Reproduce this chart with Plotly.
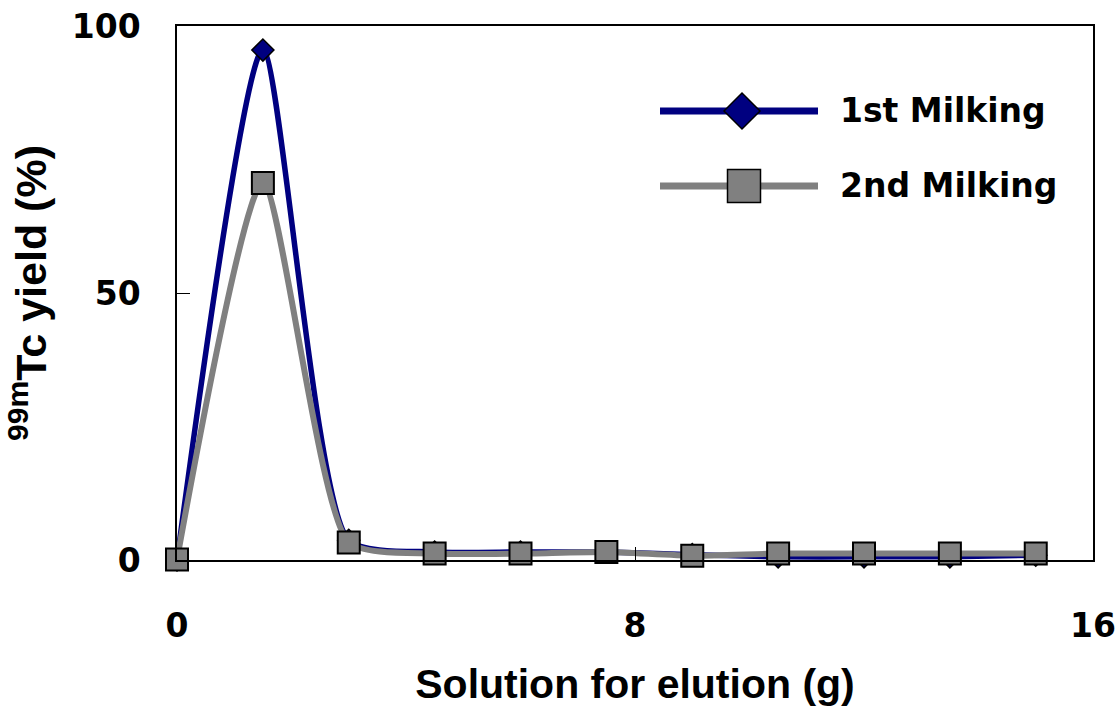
import plotly.graph_objects as go

solution_g = [0, 1.5, 3, 4.5, 6, 7.5, 9, 10.5, 12, 13.5, 15]
milking1 = [0.0, 95.5, 3.7, 1.5, 1.5, 1.5, 1.0, 0.6, 0.6, 0.6, 0.9]
milking2 = [0.1, 70.6, 3.3, 1.2, 1.2, 1.5, 0.8, 1.2, 1.2, 1.2, 1.2]
series_names = ["1st Milking", "2nd Milking"]
x_ticks = [0, 8, 16]
y_ticks = [0, 50, 100]

NAVY = "#000080"
GRAY = "#808080"

W, H = 1116, 708
L, R, T, B = 177, 23, 26, 148
PW, PH = W - L - R, H - T - B

def px(xp):
    return (xp - L) / PW

def py(yp):
    return (H - B - yp) / PH

fig = go.Figure()
fig.add_trace(go.Scatter(
    x=solution_g, y=milking1, name=series_names[0], mode="lines+markers",
    line=dict(color=NAVY, width=5.5, shape="spline", smoothing=0.6),
    marker=dict(symbol="diamond", size=17, color=NAVY, line=dict(color="black", width=1.5)),
    cliponaxis=False, showlegend=False))
fig.add_trace(go.Scatter(
    x=solution_g, y=milking2, name=series_names[1], mode="lines+markers",
    line=dict(color=GRAY, width=6, shape="spline", smoothing=0.6),
    marker=dict(symbol="square", size=22, color=GRAY, line=dict(color="black", width=2)),
    cliponaxis=False, showlegend=False))

tick_font = dict(family="DejaVu Sans", size=33, color="black", weight="bold")
xtitle_font = dict(family="Liberation Sans", size=41, color="black", weight="bold")
ytitle_font = dict(family="Liberation Sans", size=43, color="black", weight="bold")

# custom legend (decoration)
legend_rows = [(111, NAVY, "diamond"), (186, GRAY, "square")]
shapes = []
annotations = []
for (yy, col, sym), name in zip(legend_rows, series_names):
    shapes.append(dict(type="line", xref="paper", yref="paper",
                       x0=px(660), x1=px(818), y0=py(yy), y1=py(yy),
                       line=dict(color=col, width=7)))
    if sym == "diamond":
        path = "M -18,0 L 0,18 L 18,0 L 0,-18 Z"
        cx = 742
    else:
        path = "M -16.5,-16.5 L 16.5,-16.5 L 16.5,16.5 L -16.5,16.5 Z"
        cx = 744
    shapes.append(dict(type="path", xref="paper", yref="paper",
                       xsizemode="pixel", ysizemode="pixel",
                       xanchor=px(cx), yanchor=py(yy), path=path,
                       fillcolor=col, line=dict(color="black", width=1.5)))
    annotations.append(dict(text=name, xref="paper", yref="paper",
                            x=px(838), y=py(yy), xanchor="left", yanchor="middle",
                            showarrow=False, font=tick_font))

fig.update_layout(
    width=W, height=H,
    margin=dict(l=L, r=R, t=T, b=B, autoexpand=False),
    paper_bgcolor="white", plot_bgcolor="white",
    shapes=shapes, annotations=annotations,
    xaxis=dict(range=[0, 16], tickvals=x_ticks, ticks="inside", ticklen=13,
               tickcolor="black", showgrid=False, zeroline=False, automargin=False,
               showline=True, linecolor="black", linewidth=1.5, mirror=True,
               tickfont=tick_font, ticklabelstandoff=36,
               title=dict(text="Solution for elution (g)", font=xtitle_font, standoff=25)),
    yaxis=dict(range=[0, 100], tickvals=y_ticks, ticks="inside", ticklen=13,
               tickcolor="black", showgrid=False, zeroline=False, automargin=False,
               showline=True, linecolor="black", linewidth=1.5, mirror=True,
               tickfont=tick_font, ticklabelstandoff=28,
               title=dict(text="<sup>99m</sup>Tc yield (%)", font=ytitle_font, standoff=12)),
)

fig.write_html("out.html")
